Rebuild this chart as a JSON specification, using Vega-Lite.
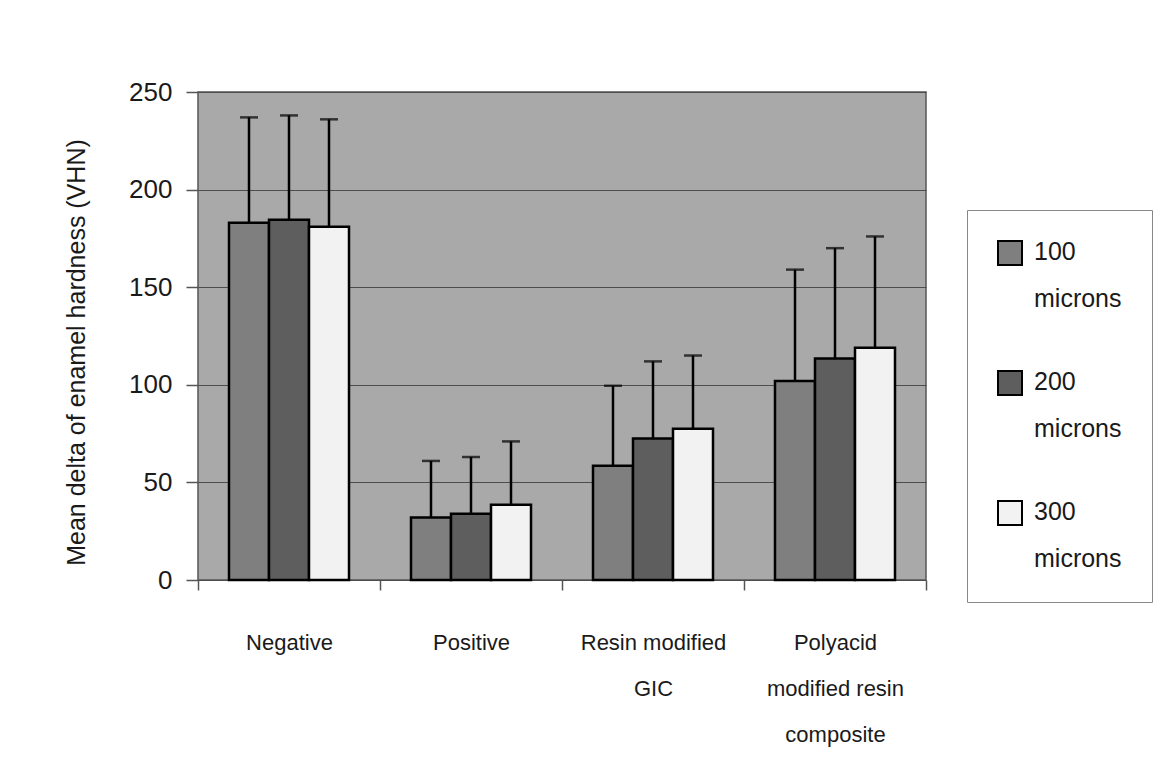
{
  "$schema": "https://vega.github.io/schema/vega-lite/v6.json",
  "autosize": {"type": "none"},
  "padding": {"left": 198, "top": 92, "right": 240, "bottom": 204},
  "width": 728,
  "height": 488,
  "background": "white",
  "config": {
    "font": "Liberation Sans",
    "view": {"fill": "#a9a9a9", "stroke": "#555555", "strokeWidth": 1.5}
  },
  "data": {
    "values": [
      {"group": "Negative", "size": "100 microns", "mean": 183, "upper": 237},
      {"group": "Negative", "size": "200 microns", "mean": 184.5, "upper": 238},
      {"group": "Negative", "size": "300 microns", "mean": 181, "upper": 236},
      {"group": "Positive", "size": "100 microns", "mean": 32, "upper": 61},
      {"group": "Positive", "size": "200 microns", "mean": 34, "upper": 63},
      {"group": "Positive", "size": "300 microns", "mean": 38.5, "upper": 71},
      {"group": "Resin modified GIC", "size": "100 microns", "mean": 58.5, "upper": 99.5},
      {"group": "Resin modified GIC", "size": "200 microns", "mean": 72.5, "upper": 112},
      {"group": "Resin modified GIC", "size": "300 microns", "mean": 77.5, "upper": 115},
      {"group": "Polyacid modified resin composite", "size": "100 microns", "mean": 102, "upper": 159},
      {"group": "Polyacid modified resin composite", "size": "200 microns", "mean": 113.5, "upper": 170},
      {"group": "Polyacid modified resin composite", "size": "300 microns", "mean": 119, "upper": 176}
    ]
  },
  "encoding": {
    "x": {
      "field": "group",
      "type": "nominal",
      "sort": ["Negative", "Positive", "Resin modified GIC", "Polyacid modified resin composite"],
      "scale": {"paddingInner": 0, "paddingOuter": 0},
      "axis": {
        "title": null,
        "labelAngle": 0,
        "labelFontSize": 22,
        "labelLineHeight": 46,
        "labelBaseline": "top",
        "labelPadding": 42,
        "labelColor": "#1a1a1a",
        "labelLimit": 0,
        "tickSize": 10,
        "tickBand": "extent",
        "tickColor": "#555555",
        "tickWidth": 1.5,
        "domain": false,
        "grid": false,
        "labelExpr": "datum.value == 'Resin modified GIC' ? ['Resin modified', 'GIC'] : datum.value == 'Polyacid modified resin composite' ? ['Polyacid', 'modified resin', 'composite'] : datum.value"
      }
    },
    "xOffset": {
      "field": "size",
      "type": "nominal",
      "sort": ["100 microns", "200 microns", "300 microns"],
      "scale": {"paddingInner": 0, "paddingOuter": 0.775}
    }
  },
  "layer": [
    {
      "mark": {"type": "bar", "stroke": "black", "strokeWidth": 2.5},
      "encoding": {
        "y": {
          "field": "mean",
          "type": "quantitative",
          "title": "Mean delta of enamel hardness (VHN)",
          "scale": {"domain": [0, 250], "nice": false},
          "axis": {
            "values": [0, 50, 100, 150, 200, 250],
            "grid": true,
            "gridColor": "#4d4d4d",
            "gridWidth": 1,
            "domain": false,
            "tickSize": 12,
            "tickColor": "#555555",
            "tickWidth": 1.5,
            "labelFontSize": 26,
            "labelPadding": 14,
            "labelColor": "#1a1a1a",
            "titleFontSize": 25,
            "titleFontWeight": "normal",
            "titleColor": "#1a1a1a",
            "titleX": -122,
            "titleY": 260,
            "titleAngle": 270,
            "titleBaseline": "middle",
            "titleAlign": "center"
          }
        },
        "fill": {
          "field": "size",
          "type": "nominal",
          "sort": ["100 microns", "200 microns", "300 microns"],
          "scale": {"domain": ["100 microns", "200 microns", "300 microns"], "range": ["#7f7f7f", "#5e5e5e", "#f2f2f2"]},
          "legend": {
            "title": null,
            "orient": "none",
            "legendX": 769,
            "legendY": 118,
            "direction": "vertical",
            "symbolType": "square",
            "symbolSize": 576,
            "symbolStrokeColor": "black",
            "symbolStrokeWidth": 2,
            "labelFontSize": 25,
            "labelColor": "#1a1a1a",
            "labelBaseline": "top",
            "labelOffset": 11,
            "labelExpr": "split(datum.label, ' ')",
            "padding": 30,
            "strokeColor": "#888888",
            "fillColor": "white",
            "rowPadding": 55,
            "encode": {
              "labels": {"update": {"lineHeight": {"value": 47}, "dy": {"value": -13}}}
            }
          }
        }
      }
    },
    {
      "mark": {"type": "rule", "color": "black", "strokeWidth": 2.5},
      "encoding": {
        "y": {"field": "mean", "type": "quantitative", "title": "Mean delta of enamel hardness (VHN)"},
        "y2": {"field": "upper"}
      }
    },
    {
      "mark": {"type": "tick", "color": "black", "thickness": 2.5, "size": 18},
      "encoding": {
        "y": {"field": "upper", "type": "quantitative", "title": "Mean delta of enamel hardness (VHN)"}
      }
    }
  ]
}
